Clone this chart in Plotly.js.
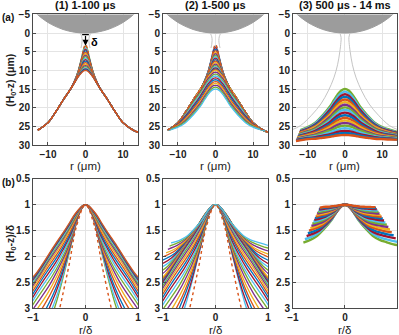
<!DOCTYPE html>
<html>
<head>
<meta charset="utf-8">
<script src="https://cdn.plot.ly/plotly-3.0.1.min.js"></script>
<style>
html, body { margin: 0; padding: 0; background: #fff; }
#plot { width: 399px; height: 335px; }
</style>
</head>
<body>
<div id="plot"></div>
<script>
// MATLAB default colour order
var lineColors = ['#0072BD', '#D95319', '#EDB120', '#7E2F8E', '#77AC30', '#4DBEEE', '#A2142F'];

// half profiles (H0-z) in um, read at these r (um); left side mirrored
var rHalf = [0, 0.5, 1, 2, 3, 4, 6, 8, 10, 12.7, 15];
var leftMax12 = 12.7;

// 1-100 us: tips at r = 0..4, common tail at r = 6..15
var tips1 = [
    [3.5, 4.3, 6.4, 10.3, 13.0, 15.0],
    [3.9, 4.6, 6.6, 10.4, 13.0, 15.0],
    [4.3, 5.0, 6.8, 10.4, 13.0, 15.0],
    [4.7, 5.3, 7.0, 10.5, 13.1, 15.0],
    [5.1, 5.7, 7.3, 10.6, 13.1, 15.0],
    [5.5, 6.0, 7.5, 10.7, 13.1, 15.0],
    [5.9, 6.4, 7.8, 10.9, 13.1, 15.0],
    [6.3, 6.7, 8.0, 11.0, 13.2, 15.0],
    [6.7, 7.1, 8.3, 11.1, 13.2, 15.0],
    [7.1, 7.5, 8.6, 11.2, 13.2, 15.0],
    [7.5, 7.8, 8.8, 11.3, 13.3, 15.0],
    [7.9, 8.2, 9.1, 11.4, 13.3, 15.0],
    [8.3, 8.6, 9.4, 11.4, 13.3, 15.0],
    [8.7, 8.9, 9.6, 11.5, 13.3, 15.0],
    [9.0, 9.2, 9.8, 11.6, 13.4, 15.0],
    [9.3, 9.5, 10.1, 11.6, 13.4, 15.0],
    [9.6, 9.8, 10.3, 11.7, 13.4, 15.0],
    [9.8, 9.95, 10.45, 11.75, 13.4, 15.0],
    [10.0, 10.15, 10.6, 11.8, 13.4, 15.0]
];
var tail1 = [18.0, 21.2, 24.0, 26.0, 26.9];
var firstTip = [3.0, 4.2, 6.8, 11.0, 13.3, 15.0];

// 100-500 us, full half profiles
var late2 = [
    [10.5, 10.6, 11.1, 12.3, 13.9, 15.5, 18.3, 21.4, 24.0, 26.0, 26.9],
    [11.0, 11.1, 11.6, 12.8, 14.3, 15.9, 18.7, 21.6, 24.1, 26.0, 26.9],
    [11.5, 11.6, 12.0, 13.2, 14.8, 16.4, 19.1, 21.9, 24.2, 26.0, 26.9],
    [12.0, 12.1, 12.5, 13.7, 15.2, 16.8, 19.6, 22.2, 24.3, 26.0, 26.8],
    [12.5, 12.6, 13.0, 14.2, 15.7, 17.3, 20.0, 22.5, 24.5, 26.0, 26.8],
    [13.0, 13.1, 13.5, 14.6, 16.2, 17.8, 20.4, 22.8, 24.6, 26.0, 26.8],
    [13.5, 13.6, 14.0, 15.1, 16.7, 18.3, 20.9, 23.1, 24.8, 26.1, 26.8],
    [14.0, 14.1, 14.4, 15.6, 17.1, 18.7, 21.2, 23.4, 24.9, 26.1, 26.8],
    [14.5, 14.6, 14.9, 16.0, 17.6, 19.2, 21.6, 23.7, 25.0, 26.1, 26.8],
    [15.0, 15.1, 15.4, 16.5, 18.0, 19.6, 22.0, 24.0, 25.2, 26.1, 26.8]
];

// 500 us - 14 ms
var rHalf3 = [0, 1, 2, 3, 4, 6, 8, 10, 12, 14, 16];
var leftMax3 = 10;
var prof3 = [
    [15.0, 15.4, 16.5, 18.0, 19.6, 22.0, 24.0, 25.2, 25.9, 26.5, 26.9],
    [15.7, 16.1, 17.1, 18.6, 20.1, 22.3, 24.2, 25.4, 26.1, 26.6, 27.0],
    [16.4, 16.8, 17.8, 19.1, 20.5, 22.7, 24.5, 25.6, 26.2, 26.7, 27.1],
    [17.1, 17.4, 18.4, 19.7, 21.0, 23.0, 24.7, 25.8, 26.4, 26.9, 27.2],
    [17.8, 18.1, 19.0, 20.2, 21.5, 23.4, 25.0, 25.9, 26.5, 27.0, 27.3],
    [18.5, 18.8, 19.6, 20.7, 21.9, 23.7, 25.2, 26.1, 26.7, 27.1, 27.4],
    [19.2, 19.5, 20.3, 21.3, 22.4, 24.1, 25.5, 26.3, 26.8, 27.2, 27.5],
    [19.9, 20.2, 20.9, 21.8, 22.9, 24.4, 25.7, 26.5, 26.95, 27.3, 27.6],
    [20.6, 20.8, 21.5, 22.4, 23.35, 24.8, 26.0, 26.7, 27.1, 27.5, 27.7],
    [21.3, 21.5, 22.1, 22.9, 23.8, 25.1, 26.2, 26.9, 27.25, 27.6, 27.8],
    [22.0, 22.2, 22.7, 23.5, 24.3, 25.5, 26.5, 27.1, 27.4, 27.7, 27.9],
    [22.7, 22.9, 23.4, 24.0, 24.75, 25.8, 26.7, 27.2, 27.55, 27.8, 28.0],
    [23.4, 23.6, 24.0, 24.6, 25.2, 26.2, 26.95, 27.4, 27.7, 27.9, 28.1],
    [24.1, 24.2, 24.6, 25.1, 25.7, 26.5, 27.2, 27.6, 27.85, 28.05, 28.2],
    [24.8, 24.9, 25.2, 25.7, 26.1, 26.8, 27.4, 27.8, 27.95, 28.1, 28.25],
    [25.5, 25.6, 25.9, 26.2, 26.6, 27.2, 27.65, 27.95, 28.1, 28.25, 28.35],
    [26.2, 26.3, 26.5, 26.8, 27.1, 27.5, 27.9, 28.1, 28.25, 28.4, 28.45],
    [26.8, 26.85, 27.0, 27.2, 27.45, 27.8, 28.1, 28.25, 28.35, 28.45, 28.5],
    [27.3, 27.35, 27.45, 27.6, 27.8, 28.05, 28.3, 28.4, 28.5, 28.55, 28.6]
];
var leftR3 = [-12.0, -12.1, -12.1, -12.2, -12.3, -12.3, -12.4, -12.5, -12.5, -12.6,
              -12.7, -12.75, -12.8, -12.9, -12.95, -13.0, -13.1, -13.15, -13.2];
var leftZ3 = [26.0, 26.2, 26.35, 26.55, 26.7, 26.9, 27.05, 27.2, 27.4, 27.55,
              27.7, 27.9, 28.05, 28.2, 28.35, 28.5, 28.65, 28.8, 28.9];

// sphere and grey outlines
var sphereR = [-14.5, -12.85, -11, -9, -6, -3, 0, 3, 6, 9, 11, 12.85, 14.5];
var sphereZ = [-6.7, -5, -3.51, -2.27, -0.97, -0.24, 0, -0.24, -0.97, -2.27, -3.51, -5, -6.7];
var neckR = [1.3, 1.0, 0.9, 1.0, 1.2];
var neckZ = [0.2, 1.0, 2.0, 3.0, 4.0];
var outline3R = [1.3, 1.05, 1.1, 1.4, 2.0, 3.0, 4.5, 6.5, 9, 12, 14.5];
var outline3Z = [0.2, 1.2, 2.5, 5, 8.5, 12, 15.5, 19, 22, 24.8, 26.0];

var fontFam = 'Liberation Sans, Arial, Helvetica, sans-serif';

function mirror(r, z, leftMax) {
    var x = [], y = [];
    for (var i = r.length - 1; i > 0; i--) {
        if (r[i] <= leftMax) { x.push(-r[i]); y.push(z[i]); }
    }
    for (i = 0; i < r.length; i++) { x.push(r[i]); y.push(z[i]); }
    return {x: x, y: y};
}

var data = [];

function addCurve(c, col, n, width, dash) {
    var d = Math.min.apply(null, c.y); // apex depth = delta
    var ln = {color: col, width: width, shape: 'spline', dash: dash || 'solid'};
    data.push({x: c.x, y: c.y, xaxis: 'x' + (n == 1 ? '' : n), yaxis: 'y' + (n == 1 ? '' : n),
               mode: 'lines', line: ln, hoverinfo: 'skip'});
    data.push({x: c.x.map(function (v) { return v / d; }), y: c.y.map(function (v) { return v / d; }),
               xaxis: 'x' + (n + 3), yaxis: 'y' + (n + 3), mode: 'lines', line: ln, hoverinfo: 'skip'});
}

function addGrey(n, r, z) {
    var ax = 'x' + (n == 1 ? '' : n), ay = 'y' + (n == 1 ? '' : n);
    var ln = {color: '#c4c4c4', width: 1, shape: 'spline'};
    data.push({x: r.map(function (v) { return -v; }), y: z, xaxis: ax, yaxis: ay, mode: 'lines',
               line: ln, hoverinfo: 'skip'});
    data.push({x: r, y: z, xaxis: ax, yaxis: ay, mode: 'lines', line: ln, hoverinfo: 'skip'});
}

// sphere in all three top panels
for (var p = 1; p <= 3; p++) {
    data.push({x: sphereR, y: sphereZ, xaxis: 'x' + (p == 1 ? '' : p), yaxis: 'y' + (p == 1 ? '' : p),
               mode: 'lines', fill: 'toself', fillcolor: '#9c9c9c', line: {color: '#9c9c9c', width: 1, shape: 'spline'},
               hoverinfo: 'skip'});
}
addGrey(1, neckR, neckZ);
addGrey(2, neckR, neckZ);
addGrey(3, outline3R, outline3Z);

var curves1 = tips1.map(function (t) { return t.concat(tail1); });
var firstCurve = firstTip.concat(tail1);

// panel 1
curves1.forEach(function (z, k) {
    addCurve(mirror(rHalf, z, leftMax12), lineColors[(k + 4) % 7], 1, 1.3);
});
addCurve(mirror(rHalf, firstCurve, leftMax12), '#D95319', 1, 1.4, 'dot');

// panel 2
var curves2 = curves1.concat(late2);
curves2.forEach(function (z, k) {
    addCurve(mirror(rHalf, z, leftMax12), lineColors[(k + 5) % 7], 2, 1.3);
});
addCurve(mirror(rHalf, firstCurve, leftMax12), '#D95319', 2, 1.4, 'dot');

// panel 3
prof3.forEach(function (z, k) {
    var c = mirror(rHalf3, z, leftMax3);
    c.x.unshift(leftR3[k]);
    c.y.unshift(leftZ3[k]);
    addCurve(c, lineColors[(k + 4) % 7], 3, 2.4);
});

var axBase = {
    showline: true, mirror: true, linecolor: '#4a4a4a', linewidth: 1,
    ticks: 'inside', ticklen: 3, tickcolor: '#4a4a4a',
    showgrid: true, gridcolor: '#e4e4e4', gridwidth: 1, zeroline: false,
    tickfont: {family: fontFam, size: 10, color: '#222', weight: 'bold'},
    fixedrange: true
};
function ax(extra) { return Object.assign({}, axBase, extra); }

var xDom = [[0.0827, 0.3459], [0.4085, 0.6717], [0.7343, 0.995]];
var yTop = [0.567, 0.957], yBot = [0.0806, 0.466];
var topY = [-5, 0, 5, 10, 15, 20, 25, 30];
var botY = [0.5, 1, 1.5, 2, 2.5, 3];

var layout = {
    width: 399, height: 335,
    margin: {l: 0, r: 0, t: 0, b: 0},
    paper_bgcolor: '#fff', plot_bgcolor: '#fff',
    showlegend: false,
    font: {family: fontFam, color: '#222'},
    annotations: [],
    shapes: []
};
for (var i = 1; i <= 3; i++) {
    var s = i == 1 ? '' : i;
    layout['xaxis' + s] = ax({domain: xDom[i - 1], range: [-14, 14], tickvals: [-10, 0, 10], anchor: 'y' + s});
    layout['yaxis' + s] = ax({domain: yTop, range: [30, -5], tickvals: topY, anchor: 'x' + s});
    layout['xaxis' + (i + 3)] = ax({domain: xDom[i - 1], range: [-1, 1], tickvals: [-1, 0, 1], anchor: 'y' + (i + 3)});
    layout['yaxis' + (i + 3)] = ax({domain: yBot, range: [3, 0.5], tickvals: botY, anchor: 'x' + (i + 3)});
}

var titles = ['(1) 1-100 μs', '(2) 1-500 μs', '(3) 500 μs - 14 ms'];
titles.forEach(function (t, k) {
    var xr = 'x' + (k == 0 ? '' : k + 1) + ' domain';
    layout.annotations.push({text: '<b>' + t + '</b>', xref: xr, x: 0.5, yref: 'paper', y: 0.985,
        xanchor: 'center', yanchor: 'middle', showarrow: false, font: {size: 11, color: '#111'}});
    layout.annotations.push({text: 'r (μm)', xref: xr, x: 0.5, yref: 'paper', y: 0.503,
        xanchor: 'center', yanchor: 'middle', showarrow: false, font: {size: 11.5, color: '#222'}});
    layout.annotations.push({text: 'r/δ', xref: 'x' + (k + 4) + ' domain', x: 0.5, yref: 'paper', y: 0.016,
        xanchor: 'center', yanchor: 'middle', showarrow: false, font: {size: 11.5, color: '#222'}});
});
layout.annotations.push(
    {text: '<b>(a)</b>', xref: 'paper', x: 0, yref: 'paper', y: 0.949, xanchor: 'left', yanchor: 'middle',
     showarrow: false, font: {size: 10, color: '#111'}},
    {text: '<b>(b)</b>', xref: 'paper', x: 0, yref: 'paper', y: 0.455, xanchor: 'left', yanchor: 'middle',
     showarrow: false, font: {size: 10, color: '#111'}},
    {text: '<b>(H<sub>0</sub>-z) (μm)</b>', xref: 'paper', x: 0.027, yref: 'paper', y: 0.761, textangle: -90,
     xanchor: 'center', yanchor: 'middle', showarrow: false, font: {size: 10.5, color: '#222'}},
    {text: '<b>(H<sub>0</sub>-z)/δ</b>', xref: 'paper', x: 0.027, yref: 'paper', y: 0.275, textangle: -90,
     xanchor: 'center', yanchor: 'middle', showarrow: false, font: {size: 10.5, color: '#222'}},
    // delta arrow
    {x: 0, y: 3.4, xref: 'x', yref: 'y', ax: 0, ay: 0.4, axref: 'x', ayref: 'y', text: '',
     showarrow: true, arrowhead: 2, arrowsize: 1, arrowwidth: 1.2, arrowcolor: '#000'},
    {text: '<b>δ</b>', x: 2.4, y: 2.4, xref: 'x', yref: 'y', showarrow: false, font: {size: 11, color: '#000'}}
);
layout.shapes.push({type: 'line', xref: 'x', yref: 'y', x0: -0.9, x1: 0.9, y0: 0.4, y1: 0.4,
                    line: {color: '#000', width: 1.2}});

Plotly.newPlot('plot', data, layout, {staticPlot: true, displayModeBar: false});
</script>
</body>
</html>
